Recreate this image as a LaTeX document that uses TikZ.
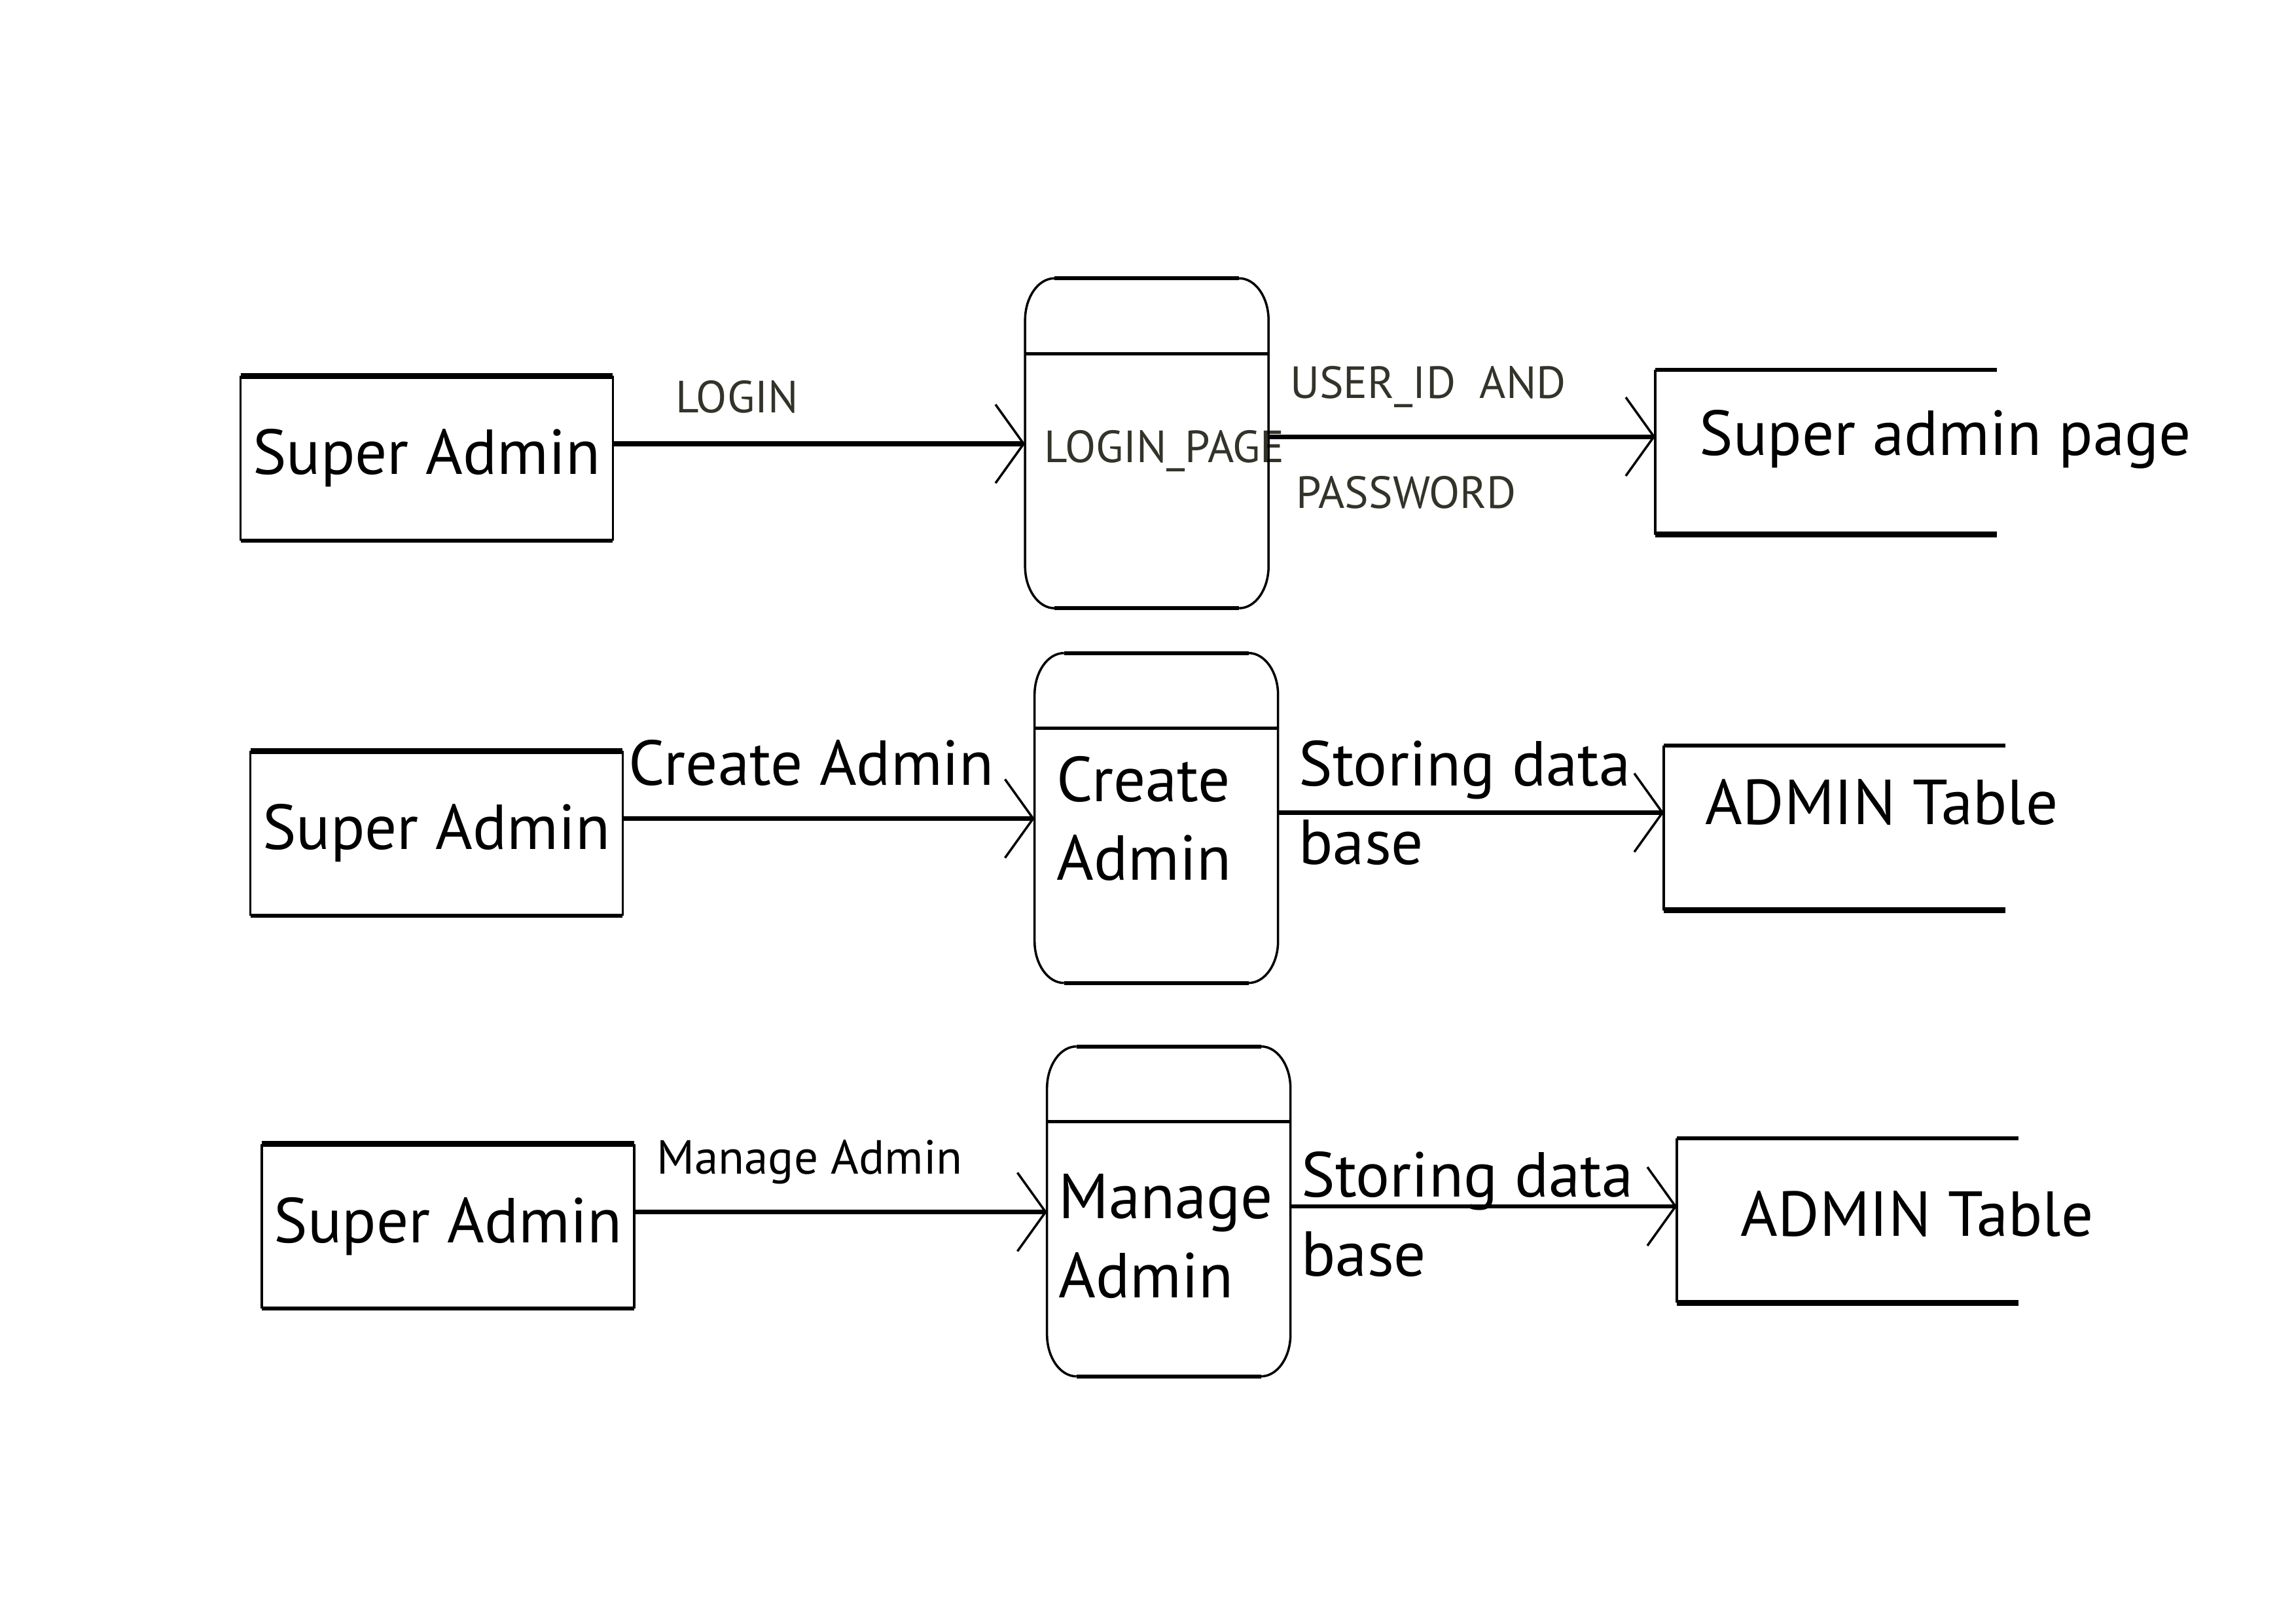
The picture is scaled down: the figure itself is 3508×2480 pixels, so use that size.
\documentclass[tikz,border=0pt]{standalone}
\usepackage{fontspec}
\setmainfont{PT Sans}
\usetikzlibrary{arrows.meta,positioning}
\definecolor{labelgray}{HTML}{33332A}
\newcommand{\bigfont}{\fontsize{27.6}{34.4}\selectfont}
\newcommand{\smallfont}{\fontsize{19.6}{23}\selectfont}
\tikzset{
  side/.style={line width=1pt},
  heavy/.style={line width=2.6pt},
  medium/.style={line width=1.8pt},
  flow/.style={line width=#1, -{Straight Barb[length=4.3mm,width=12mm,line width=1pt]}},
  flow/.default=2pt,
  entity/.style={rectangle, minimum width=5.67cm, minimum height=2.5cm, inner sep=0pt, font=\bigfont},
  process/.style={rectangle, minimum width=3.72cm, minimum height=5.04cm, inner sep=0pt},
  store/.style={rectangle, minimum width=5.2cm, minimum height=2.5cm, inner sep=0pt},
  bigtext/.style={inner sep=0pt, font=\bigfont, align=left},
  smalltext/.style={inner sep=0pt, font=\smallfont, text=labelgray},
}
% outlines drawn from the node anchors
\newcommand{\entitybox}[1]{%
  \draw[side] (#1.north west) -- (#1.south west) (#1.north east) -- (#1.south east);
  \draw[heavy] (#1.north west) -- (#1.north east);
  \draw[medium] (#1.south west) -- (#1.south east);}
\newcommand{\storebox}[1]{%
  \draw[side] (#1.north west) -- (#1.south west);
  \draw[medium] (#1.north west) -- (#1.north east);
  \draw[heavy] (#1.south west) -- (#1.south east);}
\newcommand{\procbox}[1]{%
  \begin{scope}[shift={(#1.north west)}]
    \draw[side] (45,0) .. controls (20,0) and (0,29) .. (0,64) -- (0,440) .. controls (0,475) and (20,504) .. (45,504);
    \draw[side] (327,0) .. controls (352,0) and (372,29) .. (372,64) -- (372,440) .. controls (372,475) and (352,504) .. (327,504);
    \draw[medium] (45,0) -- (327,0) (45,504) -- (327,504);
    \draw[line width=1.5pt] (0,115) -- (372,115);
  \end{scope}}
\begin{document}
\begin{tikzpicture}[x=0.01cm, y=-0.01cm]
\useasboundingbox (0,0) rectangle (3508,2480);

% login
\node[entity] (sa1) at (652,700) {Super Admin};
\node[process] (lp) at (1753,678) {};
\node[store] (st1) at (2790,691) {};
\node[smalltext, right=0.29cm of lp.west, yshift=-0.11cm] (lptxt) {LOGIN\_PAGE};
\node[bigtext, right=0.67cm of st1.west, yshift=0.2cm] (st1txt) {Super admin page};
\draw[flow=2.5pt] (sa1.east |- lp.west) -- (lp.west)
  node[smalltext, pos=0, anchor=west, xshift=0.92cm, yshift=0.72cm] (lblogin) {LOGIN};
\coordinate (lpout) at ([yshift=0.11cm]lp.east);
\draw[flow] (lpout) -- (lpout -| st1.west)
  node[smalltext, pos=0, anchor=west, xshift=0.28cm, yshift=0.76cm] (lbuser) {USER\_ID\ \ AND}
  node[smalltext, pos=0, anchor=west, xshift=0.37cm, yshift=-0.85cm] (lbpass) {PASSWORD};

% create admin
\node[entity] (sa2) at (667,1273) {Super Admin};
\node[process] (ca) at (1767.5,1250.5) {};
\node[store] (st2) at (2803,1265) {};
\node[bigtext, right=0.33cm of ca.west] (catxt) {Create\\Admin};
\node[bigtext, right=0.63cm of st2.west, yshift=0.39cm] (st2txt) {ADMIN Table};
\draw[flow] (sa2.east |- ca.west) -- (ca.west)
  node[bigtext, pos=0, anchor=west, xshift=0.06cm, yshift=0.85cm] (lbcreate) {Create Admin};
\coordinate (caout) at ([yshift=0.09cm]ca.east);
\draw[flow=1.8pt] (caout) -- (caout -| st2.west)
  node[bigtext, pos=0, anchor=west, xshift=0.27cm, yshift=0.15cm] (lbstore2) {Storing data\\base};

% manage admin
\node[entity] (sa3) at (684.5,1873.5) {Super Admin};
\node[process] (ma) at (1786.5,1851.5) {};
\node[store] (st3) at (2823,1864.5) {};
\node[bigtext, right=0.17cm of ma.west, yshift=-0.37cm] (matxt) {Manage\\Admin};
\node[bigtext, right=0.97cm of st3.west, yshift=0.1cm] (st3txt) {ADMIN Table};
\draw[flow] (sa3.east |- ma.west) -- (ma.west)
  node[pos=0, anchor=west, inner sep=0pt, font=\fontsize{20.8}{24}\selectfont, xshift=0.31cm, yshift=0.76cm] (lbmanage) {Manage Admin};
\coordinate (maout) at ([yshift=0.085cm]ma.east);
\draw[flow=1.8pt] (maout) -- (maout -| st3.west)
  node[bigtext, pos=0, anchor=west, xshift=0.12cm, yshift=-0.12cm] (lbstore3) {Storing data\\base};

\entitybox{sa1} \entitybox{sa2} \entitybox{sa3}
\procbox{lp} \procbox{ca} \procbox{ma}
\storebox{st1} \storebox{st2} \storebox{st3}
\end{tikzpicture}
\end{document}
